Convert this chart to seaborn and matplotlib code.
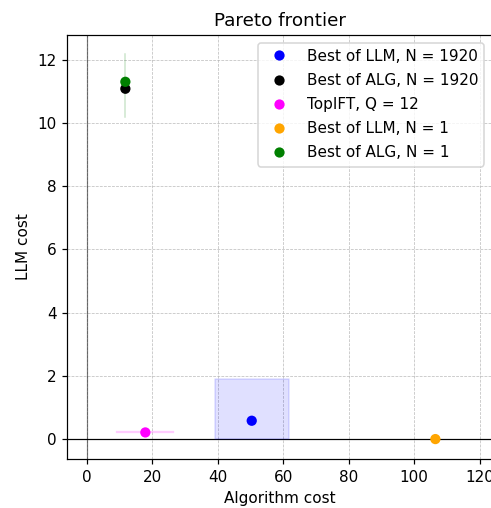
import matplotlib
matplotlib.use("Agg")
import matplotlib.pyplot as plt
import seaborn as sns
import pandas as pd

labels = ["Best of LLM, N = 1920", "Best of ALG, N = 1920", "TopIFT, Q = 12",
          "Best of LLM, N = 1", "Best of ALG, N = 1"]
colors = ["blue", "black", "magenta", "orange", "green"]
alg_cost = [50.4, 11.8, 17.9, 106.5, 11.8]
llm_cost = [0.58, 11.08, 0.21, 0.0, 11.3]

# spread regions
box_alg = [39.2, 61.7]
box_llm = [0.0, 1.89]
topift_xerr = [9.35, 26.3]
alg_yerr = [10.2, 12.17]

df = pd.DataFrame({"alg": alg_cost, "llm": llm_cost, "label": labels})

DPI = 110
W, H = 491, 508
fig = plt.figure(figsize=(W / DPI, H / DPI), dpi=DPI)
ax = fig.add_axes([67.1 / W, 49 / H, (492 - 67.1) / W, (459 - 35) / H])

ax.grid(True, linestyle="--", linewidth=0.5, color="#b0b0b0", alpha=0.8)
ax.set_axisbelow(True)
ax.axhline(0, color="black", linewidth=0.8, zorder=1)
ax.axvline(0, color="black", linewidth=0.8, alpha=0.5, zorder=1)

ax.fill_between(box_alg, box_llm[0], box_llm[1], color="blue", alpha=0.12, zorder=1)
ax.plot(topift_xerr, [llm_cost[2]] * 2, color="magenta", alpha=0.2, linewidth=1.5, zorder=1)
ax.plot([alg_cost[4]] * 2, alg_yerr, color="green", alpha=0.2, linewidth=1.0, zorder=1)

sns.scatterplot(data=df, x="alg", y="llm", hue="label", palette=dict(zip(labels, colors)),
                hue_order=labels, s=45, edgecolor="none", ax=ax, zorder=3)

ax.set_xlim(-6, 123.8)
ax.set_ylim(-0.63, 12.78)
ax.set_xticks([0, 20, 40, 60, 80, 100, 120])
ax.set_yticks([0, 2, 4, 6, 8, 10, 12])
ax.set_xlabel("Algorithm cost")
ax.set_ylabel("LLM cost")
ax.set_title("Pareto frontier")
ax.legend(loc="upper right", title=None, labelspacing=0.6)

fig.savefig("out.png", dpi=DPI)
